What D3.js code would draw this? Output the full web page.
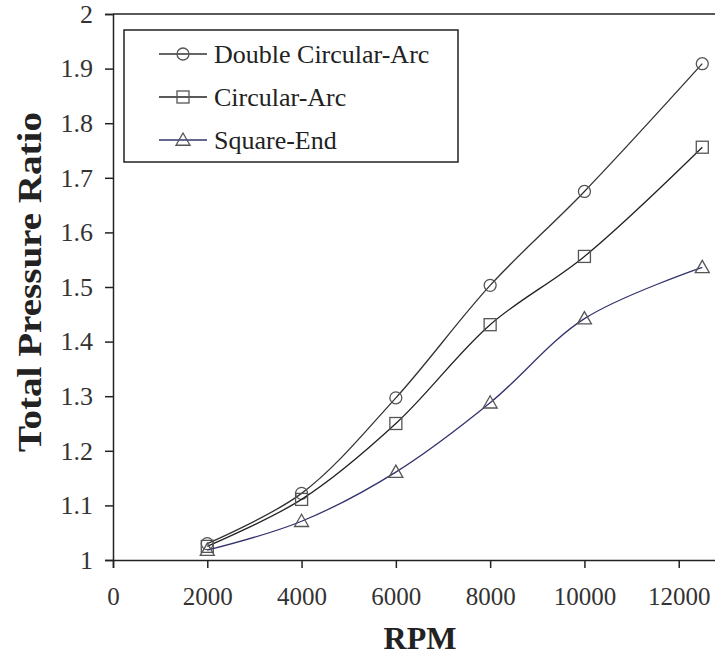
<!DOCTYPE html>
<html>
<head>
<meta charset="utf-8">
<script src="https://cdn.jsdelivr.net/npm/d3@7"></script>
<style>
  body { margin: 0; background: #fff; }
  svg { display: block; }
  text { font-family: "Liberation Serif", "Times New Roman", serif; }
</style>
</head>
<body>
<script>
// Data
const rpm = [2000, 4000, 6000, 8000, 10000, 12500];
const doubleCircularArc = [1.030, 1.122, 1.297, 1.503, 1.675, 1.909];
const circularArc = [1.025, 1.111, 1.250, 1.431, 1.556, 1.756];
const squareEnd = [1.018, 1.071, 1.161, 1.288, 1.442, 1.536];
const seriesNames = ["Double Circular-Arc", "Circular-Arc", "Square-End"];
const xTicks = [0, 2000, 4000, 6000, 8000, 10000, 12000];
const yTicks = [1, 1.1, 1.2, 1.3, 1.4, 1.5, 1.6, 1.7, 1.8, 1.9, 2];

const W = 715, H = 657;
const margin = { top: 14, left: 113 };
const plotW = 660, plotH = 546;

const svg = d3.select("body").append("svg")
  .attr("width", W)
  .attr("height", H);

const g = svg.append("g")
  .attr("transform", `translate(${margin.left},${margin.top})`);

// axis runs past the right edge of the picture
const x = d3.scaleLinear().domain([0, 14000]).range([0, plotW]);
const y = d3.scaleLinear().domain([1, 2]).range([plotH, 0]);

// top frame line
g.append("line")
  .attr("x1", 0).attr("x2", plotW)
  .attr("y1", 0).attr("y2", 0)
  .attr("stroke", "#222").attr("stroke-width", 1.5);

// x axis
const xAxis = g.append("g")
  .attr("transform", `translate(0,${plotH})`)
  .call(d3.axisBottom(x).tickValues(xTicks).tickSize(8).tickPadding(14).tickFormat(d3.format("d")));

// y axis
const yAxis = g.append("g")
  .call(d3.axisLeft(y).tickValues(yTicks).tickSize(8).tickPadding(12).tickFormat(d3.format(".1~f")));

[xAxis, yAxis].forEach(a => {
  a.select(".domain").attr("stroke", "#222").attr("stroke-width", 1.5);
  a.selectAll(".tick line").attr("stroke", "#222").attr("stroke-width", 1.5);
  a.selectAll(".tick text")
    .attr("fill", "#333")
    .style("font-family", "'Liberation Serif', serif")
    .style("font-size", "25px");
});
xAxis.selectAll(".tick text").attr("dy", "0.9em");
yAxis.selectAll(".tick text").style("font-size", "26px");

// axis titles
svg.append("text")
  .attr("x", 420).attr("y", 649)
  .attr("text-anchor", "middle")
  .attr("font-weight", "bold")
  .attr("font-size", "32px")
  .attr("fill", "#222")
  .text("RPM");

svg.append("text")
  .attr("transform", "translate(41,282) rotate(-90)")
  .attr("text-anchor", "middle")
  .attr("font-weight", "bold")
  .attr("font-size", "33px")
  .attr("textLength", 340)
  .attr("lengthAdjust", "spacingAndGlyphs")
  .attr("fill", "#222")
  .text("Total Pressure Ratio");

const series = [
  { name: seriesNames[0], values: doubleCircularArc, color: "#333", marker: "circle" },
  { name: seriesNames[1], values: circularArc, color: "#222", marker: "square" },
  { name: seriesNames[2], values: squareEnd, color: "#33336e", marker: "triangle" }
];

const line = d3.line()
  .x(d => x(d[0]))
  .y(d => y(d[1]))
  .curve(d3.curveCatmullRom.alpha(0.5));

function drawMarker(sel, type, cx, cy) {
  if (type === "circle") {
    sel.append("circle")
      .attr("cx", cx).attr("cy", cy).attr("r", 6)
      .attr("fill", "none").attr("stroke", "#555").attr("stroke-width", 1.3);
  } else if (type === "square") {
    sel.append("rect")
      .attr("x", cx - 6).attr("y", cy - 6).attr("width", 12).attr("height", 12)
      .attr("fill", "none").attr("stroke", "#555").attr("stroke-width", 1.3);
  } else {
    const s = 7;
    sel.append("path")
      .attr("d", `M${cx},${cy - s}L${cx + s},${cy + s * 0.75}L${cx - s},${cy + s * 0.75}Z`)
      .attr("fill", "none").attr("stroke", "#555").attr("stroke-width", 1.3);
  }
}

series.forEach(s => {
  const pts = rpm.map((r, i) => [r, s.values[i]]);
  g.append("path")
    .datum(pts)
    .attr("d", line)
    .attr("fill", "none")
    .attr("stroke", s.color)
    .attr("stroke-width", 1.3);
  const mg = g.append("g");
  pts.forEach(p => drawMarker(mg, s.marker, x(p[0]), y(p[1])));
});

// legend
const legend = svg.append("g");
legend.append("rect")
  .attr("x", 124).attr("y", 30)
  .attr("width", 334).attr("height", 132)
  .attr("fill", "#fff")
  .attr("stroke", "#222").attr("stroke-width", 1.5);

series.forEach((s, i) => {
  const ly = 54 + i * 43;
  legend.append("line")
    .attr("x1", 159).attr("x2", 207)
    .attr("y1", ly).attr("y2", ly)
    .attr("stroke", s.color).attr("stroke-width", 1.3);
  drawMarker(legend, s.marker, 183, ly);
  legend.append("text")
    .attr("x", 214).attr("y", ly)
    .attr("dy", "0.35em")
    .attr("font-size", "26px")
    .attr("fill", "#222")
    .text(s.name);
});
</script>
</body>
</html>
